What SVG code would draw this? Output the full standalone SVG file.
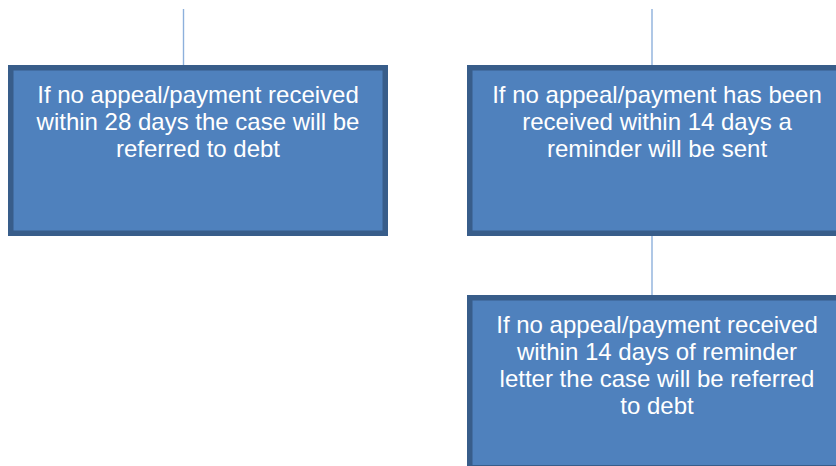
<svg xmlns="http://www.w3.org/2000/svg" width="836" height="466" viewBox="0 0 836 466">
<style>
.box{fill:#4f81bd;stroke:#385d8a;stroke-width:5.5}
.lbl{font-family:"Liberation Sans",Arial,sans-serif;font-size:24px;fill:#ffffff;text-anchor:middle}
.conn{stroke:#8db0dc;stroke-width:1.4;fill:none}
</style>
<rect width="836" height="466" fill="#ffffff"/>
<g id="connectors">
<line class="conn" x1="183.5" y1="9" x2="183.5" y2="65"/>
<line class="conn" x1="652" y1="9" x2="652" y2="65"/>
<line class="conn" x1="652" y1="236" x2="652" y2="295"/>
</g>
<g id="node1">
<rect class="box" x="10.75" y="67.75" width="374.5" height="165.5"/>
<text class="lbl" x="198" y="103">If no appeal/payment received</text>
<text class="lbl" x="198" y="130">within 28 days the case will be</text>
<text class="lbl" x="198" y="157">referred to debt</text>
</g>
<g id="node2">
<rect class="box" x="469.75" y="67.75" width="374.5" height="165.5"/>
<text class="lbl" x="657" y="103">If no appeal/payment has been</text>
<text class="lbl" x="657" y="130">received within 14 days a</text>
<text class="lbl" x="657" y="157">reminder will be sent</text>
</g>
<g id="node3">
<rect class="box" x="469.75" y="297.75" width="374.5" height="170"/>
<text class="lbl" x="657" y="333">If no appeal/payment received</text>
<text class="lbl" x="657" y="360">within 14 days of reminder</text>
<text class="lbl" x="657" y="387">letter the case will be referred</text>
<text class="lbl" x="657" y="414">to debt</text>
</g>
</svg>
